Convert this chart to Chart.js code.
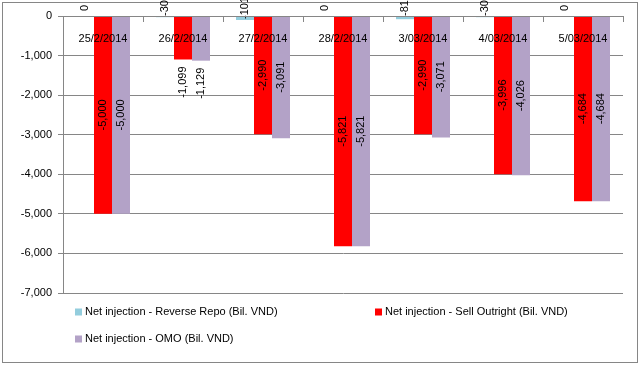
<!DOCTYPE html>
<html lang="en">
<head>
  <meta charset="UTF-8" />
  <title>Net injection</title>
  <script src="https://cdn.jsdelivr.net/npm/chart.js"></script>
  <style>
    html, body { margin: 0; padding: 0; background: #fff; }
    #wrap { width: 641px; height: 366px; }
  </style>
</head>
<body>
  <div id="wrap"><canvas id="chart" width="641" height="366"></canvas></div>

  <script>
    const dates = ["25/2/2014", "26/2/2014", "27/2/2014", "28/2/2014", "3/03/2014", "4/03/2014", "5/03/2014"];
    const reverseRepo = [0, -30, -101, 0, -81, -30, 0];
    const sellOutright = [-5000, -1099, -2990, -5821, -2990, -3996, -4684];
    const omo = [-5000, -1129, -3091, -5821, -3071, -4026, -4684];
    const yTicks = [0, -1000, -2000, -3000, -4000, -5000, -6000, -7000];

    const FONT = "'Liberation Sans', Arial, sans-serif";
    const GRID = "#868686";
    const fmt = v => v.toLocaleString("en-US");

    // white background + outer frame
    const framePlugin = {
      id: "frame",
      beforeDraw(chart) {
        const ctx = chart.ctx;
        ctx.save();
        ctx.fillStyle = "#fff";
        ctx.fillRect(0, 0, chart.width, chart.height);
        ctx.strokeStyle = GRID;
        ctx.lineWidth = 1;
        ctx.strokeRect(2.5, 2.5, chart.width - 6, chart.height - 6);
        ctx.restore();
      }
    };

    // rotated value labels
    const labelPlugin = {
      id: "valueLabels",
      afterDatasetsDraw(chart) {
        const ctx = chart.ctx;
        const zero = chart.scales.y.getPixelForValue(0);
        ctx.save();
        ctx.font = "11px " + FONT;
        ctx.fillStyle = "#000";
        ctx.textBaseline = "middle";
        chart.data.datasets.forEach((ds, di) => {
          chart.getDatasetMeta(di).data.forEach((bar, i) => {
            const txt = fmt(ds.data[i]);
            const w = ctx.measureText(txt).width;
            ctx.save();
            let y, align;
            if (di === 0) {
              y = zero - 8; align = "center";
            } else if (bar.y - zero > w + 20) {
              y = (bar.y + zero) / 2; align = "center";
            } else {
              y = bar.y + 7; align = "right";
            }
            ctx.translate(bar.x, y);
            ctx.rotate(-Math.PI / 2);
            ctx.textAlign = align;
            ctx.fillText(txt, 0, 0);
            ctx.restore();
          });
        });
        ctx.restore();
      }
    };

    // legend in two columns under the plot
    const legendPlugin = {
      id: "legendBox",
      afterDraw(chart) {
        const ctx = chart.ctx;
        const area = chart.chartArea;
        ctx.save();
        ctx.font = "11px " + FONT;
        ctx.textBaseline = "middle";
        ctx.textAlign = "left";
        chart.data.datasets.forEach((ds, i) => {
          const col = i % 2, row = Math.floor(i / 2);
          const x = area.left + 12 + col * 300;
          const y = area.bottom + 19 + row * 27;
          ctx.fillStyle = ds.backgroundColor;
          ctx.fillRect(x, y - 3.5, 7, 7);
          ctx.fillStyle = "#000";
          ctx.fillText(ds.label, x + 10, y);
        });
        ctx.restore();
      }
    };

    new Chart(document.getElementById("chart").getContext("2d"), {
      type: "bar",
      data: {
        labels: dates,
        datasets: [
          { label: "Net injection - Reverse Repo (Bil. VND)", data: reverseRepo, backgroundColor: "#93cddd" },
          { label: "Net injection - Sell Outright (Bil. VND)", data: sellOutright, backgroundColor: "#ff0000" },
          { label: "Net injection - OMO (Bil. VND)", data: omo, backgroundColor: "#b3a2c7" }
        ]
      },
      options: {
        responsive: false,
        animation: false,
        devicePixelRatio: 1,
        layout: { padding: { top: 16, right: 18, bottom: 73, left: 0 } },
        datasets: { bar: { categoryPercentage: 0.675, barPercentage: 1 } },
        plugins: { legend: { display: false }, tooltip: { enabled: false } },
        scales: {
          x: {
            position: { y: 0 },
            grid: { drawOnChartArea: false, drawTicks: true, tickLength: 5, offset: true, color: GRID, z: 1 },
            border: { display: true, color: GRID, z: 1 },
            ticks: { z: 1, color: "#000", font: { family: FONT, size: 11 }, padding: 11, maxRotation: 0, autoSkip: false }
          },
          y: {
            min: yTicks[yTicks.length - 1],
            max: yTicks[0],
            afterBuildTicks(scale) { scale.ticks = yTicks.map(v => ({ value: v })); },
            afterFit(scale) { scale.width = 63; },
            grid: { color: GRID, tickLength: 5, tickColor: GRID },
            border: { color: GRID },
            ticks: { color: "#000", font: { family: FONT, size: 11 }, padding: 6, callback: v => fmt(v) }
          }
        }
      },
      plugins: [framePlugin, labelPlugin, legendPlugin]
    });
  </script>
</body>
</html>
